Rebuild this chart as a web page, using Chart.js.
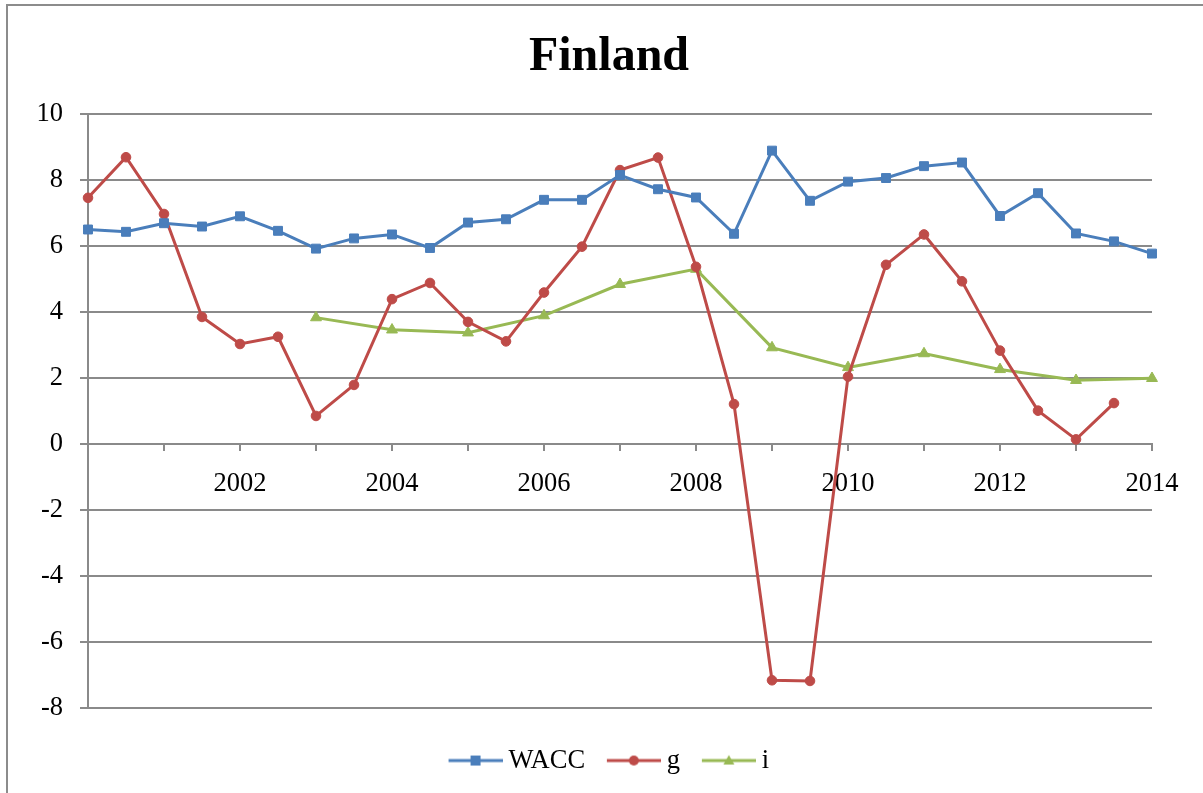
<!DOCTYPE html>
<html>
<head>
<meta charset="utf-8">
<script src="https://cdn.jsdelivr.net/npm/chart.js@4/dist/chart.umd.min.js"></script>
<style>
  html, body { margin: 0; padding: 0; background: #ffffff; overflow: hidden; }
  #wrap { position: relative; width: 1203px; height: 793px; overflow: hidden; }
  #frame { position: absolute; left: 6px; top: 4px; width: 1400px; height: 1000px;
           border-left: 2px solid #8c8c8c; border-top: 2px solid #8c8c8c; pointer-events: none; }
  canvas { position: absolute; left: 0; top: 0; }
</style>
</head>
<body>
<div id="wrap">
  <canvas id="c" width="1203" height="793"></canvas>
  <div id="frame"></div>
</div>
<script>
// Half-year periods from 2000 to 2014
const categories = ['2000','2000.5','2001','2001.5','2002','2002.5','2003','2003.5','2004','2004.5',
                    '2005','2005.5','2006','2006.5','2007','2007.5','2008','2008.5','2009','2009.5',
                    '2010','2010.5','2011','2011.5','2012','2012.5','2013','2013.5','2014'];
const xTickLabels = ['','','','','2002','','','','2004','','','','2006','','','','2008','','','',
                     '2010','','','','2012','','','','2014'];
const seriesNames = ['WACC', 'g', 'i'];
const waccValues = [6.50, 6.43, 6.69, 6.59, 6.90, 6.46, 5.92, 6.23, 6.35, 5.94,
                    6.71, 6.81, 7.40, 7.40, 8.15, 7.72, 7.47, 6.37, 8.89, 7.37,
                    7.95, 8.06, 8.42, 8.53, 6.91, 7.60, 6.38, 6.14, 5.77];
const gValues = [7.46, 8.69, 6.97, 3.85, 3.03, 3.25, 0.85, 1.79, 4.39, 4.88,
                 3.70, 3.11, 4.59, 5.98, 8.30, 8.68, 5.37, 1.21, -7.16, -7.18,
                 2.04, 5.43, 6.35, 4.93, 2.83, 1.01, 0.14, 1.24, null];
const iValues = [null, null, null, null, null, null, 3.83, null, 3.46, null,
                 3.37, null, 3.89, null, 4.84, null, 5.30, null, 2.92, null,
                 2.32, null, 2.74, null, 2.26, null, 1.93, null, 1.99];
const yTicks = { min: -8, max: 10, step: 2 };

const colors = ['#4a7ebb', '#be4b48', '#98b954'];
const shapes = ['rect', 'circle', 'triangle'];
const GRID = '#8a8a8a';
const FONT = "'Liberation Serif', 'Times New Roman', serif";
const FS = 26.5;

// Legend icon: line segment with the series marker in its middle (left side left transparent)
function legendIcon(color, shape) {
  const c = document.createElement('canvas');
  c.width = 61; c.height = 14;
  const g = c.getContext('2d');
  g.strokeStyle = color; g.lineWidth = 3;
  g.beginPath(); g.moveTo(7, 7); g.lineTo(61, 7); g.stroke();
  g.fillStyle = color;
  g.beginPath();
  const cx = 34;
  if (shape === 'rect') { g.rect(cx - 5, 2, 10, 10); }
  else if (shape === 'circle') { g.arc(cx, 7, 5, 0, Math.PI * 2); }
  else { g.moveTo(cx, 1.5); g.lineTo(cx + 5.5, 11); g.lineTo(cx - 5.5, 11); g.closePath(); }
  g.fill();
  return c;
}
const icons = colors.map((c, k) => legendIcon(c, shapes[k]));

const valueSets = [waccValues, gValues, iValues];
const radii = [6.3, 4.8, 6.3];
const datasets = seriesNames.map((name, k) => ({
  label: name,
  data: valueSets[k],
  borderColor: colors[k],
  backgroundColor: colors[k],
  borderWidth: 3,
  pointStyle: shapes[k],
  pointRadius: radii[k],
  pointBorderWidth: 1,
  pointBackgroundColor: colors[k],
  pointBorderColor: colors[k],
  tension: 0,
  spanGaps: true
}));

new Chart(document.getElementById('c'), {
  type: 'line',
  data: { labels: categories, datasets },
  options: {
    responsive: false,
    animation: false,
    devicePixelRatio: 1,
    layout: { padding: { top: 5, left: 34, right: 19, bottom: 9.2 } },
    plugins: {
      tooltip: { enabled: false },
      title: {
        display: true,
        text: 'Finland',
        color: '#000',
        font: { family: FONT, size: 48, weight: 'bold' },
        padding: { top: 24, bottom: 27.4 }
      },
      legend: {
        display: true,
        position: 'bottom',
        title: { display: true, text: '', font: { size: 9 }, padding: { top: 6.5, bottom: 0 } },
        labels: {
          color: '#000',
          font: { family: FONT, size: FS },
          usePointStyle: true,
          pointStyleWidth: 46.5,
          padding: 22,
          generateLabels(chart) {
            const items = Chart.defaults.plugins.legend.labels.generateLabels(chart);
            items.forEach((it, k) => { it.pointStyle = icons[k]; });
            return items;
          }
        }
      }
    },
    scales: {
      x: {
        type: 'category',
        position: { y: 0 },
        offset: false,
        grid: {
          drawOnChartArea: false,
          drawTicks: true,
          tickLength: 6,
          lineWidth: 2,
          color: (ctx) => (ctx.index % 2 === 0 ? GRID : 'rgba(0,0,0,0)')
        },
        border: { display: true, color: GRID, width: 2 },
        ticks: {
          autoSkip: false,
          maxRotation: 0,
          minRotation: 0,
          padding: 18,
          color: '#000',
          font: { family: FONT, size: FS },
          callback: (val, idx) => xTickLabels[idx]
        }
      },
      y: {
        position: 'left',
        min: yTicks.min,
        max: yTicks.max,
        afterFit: (scale) => { scale.width = 54; },
        grid: { color: GRID, lineWidth: 2, tickLength: 8 },
        border: { display: true, color: GRID, width: 2 },
        ticks: {
          stepSize: yTicks.step,
          padding: 17,
          color: '#000',
          font: { family: FONT, size: FS }
        }
      },
      spacer: {
        type: 'linear',
        position: 'right',
        display: true,
        afterFit: (scale) => { scale.width = 32; },
        grid: { display: false, drawTicks: false },
        border: { display: false },
        ticks: { display: false }
      }
    }
  }
});
</script>
</body>
</html>
